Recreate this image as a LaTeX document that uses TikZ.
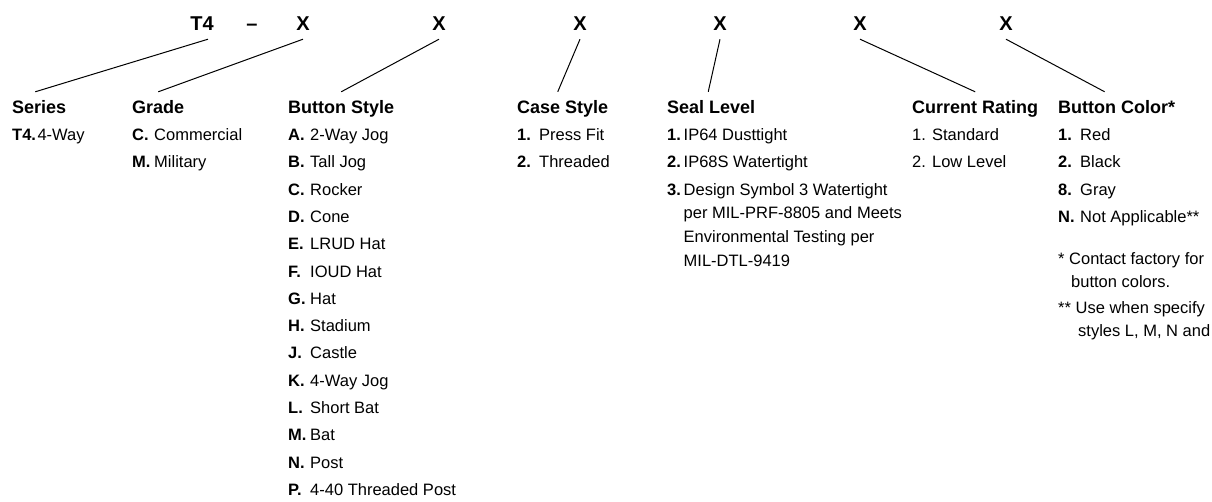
\documentclass[tikz,border=0pt]{standalone}
\usepackage{fontspec}
\setmainfont{Liberation Sans}
\usetikzlibrary{positioning}
\newcommand\optkey[1]{\makebox[22pt][l]{\bfseries #1}}
\newcommand\sealkey[1]{\makebox[16.5pt][l]{\bfseries #1}}

\begin{document}
\begin{tikzpicture}[
    x=1pt, y=-1pt,
    code/.style={anchor=base, inner sep=0pt, font=\fontsize{20}{24}\selectfont\bfseries, text height=15pt, text depth=9pt},
    head/.style={anchor=base west, inner sep=0pt, font=\fontsize{18}{20}\selectfont\bfseries, text height=21pt, text depth=0pt},
    item/.style={anchor=base west, inner sep=0pt, font=\fontsize{16.5}{20}\selectfont},
    leader/.style={line width=1pt}
  ]
    \useasboundingbox (0,0) rectangle (1212,501);

    % part number
    \node[code] (series-x) at (202,30) {T4};
    \node[code] (dash) at (252,30) {--};
    \node[code] (grade-x) at (303,30) {X};
    \node[code] (bstyle-x) at (439,30) {X};
    \node[code] (case-x) at (580,30) {X};
    \node[code] (seal-x) at (720,30) {X};
    \node[code] (rating-x) at (860,30) {X};
    \node[code] (color-x) at (1006,30) {X};

    % headings
    \node[head] (series) at (12,113) {Series};
    \node[head] (grade) at (132,113) {Grade};
    \node[head] (bstyle) at (288,113) {Button Style};
    \node[head] (case) at (517,113) {Case Style};
    \node[head] (seal) at (667,113) {Seal Level};
    \node[head] (rating) at (912,113) {Current Rating};
    \node[head] (color) at (1058,113) {Button Color*};

    \draw[leader] ([xshift=6pt]series-x.south) -- ([xshift=-4pt]series.north);
    \draw[leader] (grade-x.south) -- (grade.north);
    \draw[leader] (bstyle-x.south) -- (bstyle.north);
    \draw[leader] (case-x.south) -- ([xshift=-5pt]case.north);
    \draw[leader] (seal-x.south) -- ([xshift=-3pt]seal.north);
    \draw[leader] (rating-x.south) -- (rating.north);
    \draw[leader] (color-x.south) -- ([xshift=-12pt]color.north);

    % series
    \node[item] (series-t4) at (12,140) {\textbf{T4.}\hspace{1.5pt}4-Way};

    % grade
    \node[item] (grade-c) at (132,140) {\optkey{C.}Commercial};
    \node[item] (grade-m) at (132,167) {\optkey{M.}Military};

    % button style
    \node[item] (bstyle-a) at (288,140) {\optkey{A.}2-Way Jog};
    \node[item] (bstyle-b) at (288,167) {\optkey{B.}Tall Jog};
    \node[item] (bstyle-c) at (288,195) {\optkey{C.}Rocker};
    \node[item] (bstyle-d) at (288,222) {\optkey{D.}Cone};
    \node[item] (bstyle-e) at (288,249) {\optkey{E.}LRUD Hat};
    \node[item] (bstyle-f) at (288,277) {\optkey{F.}IOUD Hat};
    \node[item] (bstyle-g) at (288,304) {\optkey{G.}Hat};
    \node[item] (bstyle-h) at (288,331) {\optkey{H.}Stadium};
    \node[item] (bstyle-j) at (288,358) {\optkey{J.}Castle};
    \node[item] (bstyle-k) at (288,386) {\optkey{K.}4-Way Jog};
    \node[item] (bstyle-l) at (288,413) {\optkey{L.}Short Bat};
    \node[item] (bstyle-m) at (288,440) {\optkey{M.}Bat};
    \node[item] (bstyle-n) at (288,468) {\optkey{N.}Post};
    \node[item] (bstyle-p) at (288,495) {\optkey{P.}4-40 Threaded Post};

    % case style
    \node[item] (case-1) at (517,140) {\optkey{1.}Press Fit};
    \node[item] (case-2) at (517,167) {\optkey{2.}Threaded};

    % seal level
    \node[item] (seal-1) at (667,140) {\sealkey{1.}IP64 Dusttight};
    \node[item] (seal-2) at (667,167) {\sealkey{2.}IP68S Watertight};
    \node[item] (seal-3) at (667,195) {\sealkey{3.}Design Symbol 3 Watertight};
    \node[item] (seal-3b) at (683.5,218) {per MIL-PRF-8805 and Meets};
    \node[item] (seal-3c) at (683.5,242) {Environmental Testing per};
    \node[item] (seal-3d) at (683.5,266) {MIL-DTL-9419};

    % current rating
    \node[item] (rating-1) at (912,140) {1. Standard};
    \node[item] (rating-2) at (912,167) {2. Low Level};

    % button color
    \node[item] (color-1) at (1058,140) {\optkey{1.}Red};
    \node[item] (color-2) at (1058,167) {\optkey{2.}Black};
    \node[item] (color-8) at (1058,195) {\optkey{8.}Gray};
    \node[item] (color-n) at (1058,222) {\optkey{N.}Not Applicable**};
    \node[item] (note-1) at (1058,264) {* Contact factory for};
    \node[item] (note-1b) at (1071,287) {button colors.};
    \node[item] (note-2) at (1058,313) {** Use when specify};
    \node[item] (note-2b) at (1078,336) {styles L, M, N and};
  \end{tikzpicture}
\end{document}
